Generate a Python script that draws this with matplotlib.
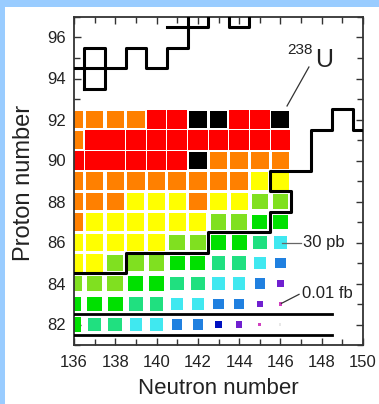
import numpy as np
import matplotlib.pyplot as plt
from matplotlib.patches import Rectangle

# neutron / proton numbers of the cells
neutrons = list(range(136, 147))
protons = [92, 91, 90, 89, 88, 87, 86, 85, 84, 83, 82]

# cross-section class of each cell (0 = largest ... 12 = smallest), rows follow `protons`
level = [
    [2, 2, 2, 2, 1, 1, 0, 0, 1, 1, 0],
    [2, 1, 1, 1, 1, 1, 1, 1, 1, 1, 1],
    [1, 1, 1, 1, 1, 1, 0, 2, 2, 2, 2],
    [2, 2, 2, 2, 2, 2, 2, 2, 2, 3, 3],
    [2, 2, 2, 3, 3, 3, 2, 3, 3, 4, 4],
    [2, 3, 3, 3, 3, 3, 3, 4, 4, 5, 5],
    [3, 3, 3, 3, 3, 4, 4, 5, 5, 6, 7],
    [3, 3, 4, 4, 4, 5, 5, 6, 6, 7, 8],
    [4, 4, 4, 5, 5, 6, 6, 7, 7, 8, 10],
    [5, 5, 5, 6, 6, 7, 7, 8, 8, 10, 11],
    [5, 6, 6, 7, 7, 8, 8, 9, 10, 11, 12],
]

level_colors = ['#000000', '#ff0000', '#ff8000', '#ffff00', '#80e020', '#00e000',
                '#20e080', '#40e8f0', '#2080e0', '#0010c0', '#7020d0', '#d040c0', '#e8e8e8']
level_sizes = [0.87, 0.96, 0.85, 0.83, 0.76, 0.72, 0.66, 0.6, 0.5, 0.38, 0.3, 0.16, 0.1]

# boundary lines (N, Z)
lower_N = [136, 138.5, 138.5, 142.5, 142.5, 145.5, 145.5, 146.5, 146.5, 145.5, 145.5,
           147.5, 147.5, 148.5, 148.5, 149.5, 149.5, 150]
lower_Z = [84.5, 84.5, 85.5, 85.5, 86.5, 86.5, 87.5, 87.5, 88.5, 88.5, 89.5,
           89.5, 91.5, 91.5, 92.5, 92.5, 91.5, 91.5]
upper_N = [136, 138.5, 138.5, 139.5, 139.5, 140.5, 140.5, 141.5, 141.5]
upper_Z = [94.5, 94.5, 95.5, 95.5, 94.5, 94.5, 95.5, 95.5, 97]
box_N = [136.5, 137.5, 137.5, 136.5, 136.5]
box_Z = [93.5, 93.5, 95.5, 95.5, 93.5]
top1_N = [140.5, 142.5, 142.5]
top1_Z = [96.5, 96.5, 97]
top2_N = [143.5, 143.5, 144.5, 144.5]
top2_Z = [97, 96.5, 96.5, 97]
shell_N = [136, 148.5]
shell_Z1 = [82.5, 82.5]
shell_Z2 = [81.5, 81.5]

tick_font = ['Liberation Sans Narrow', 'DejaVu Sans Condensed', 'Liberation Sans']
text_font = ['Liberation Sans', 'DejaVu Sans']

fig = plt.figure(figsize=(3.79, 4.04), dpi=100)
fig.patch.set_facecolor('#99ccff')
fig.add_artist(Rectangle((5 / 379, 0), 1, 1 - 7 / 404, transform=fig.transFigure,
                         facecolor='white', edgecolor='none', zorder=0))

ax = fig.add_axes([74 / 379, 1 - 345 / 404, 289 / 379, 328 / 404])
ax.set_xlim(136, 150)
ax.set_ylim(81, 97)

for i, z in enumerate(protons):
    for j, n in enumerate(neutrons):
        lv = level[i][j]
        s = level_sizes[lv]
        ax.add_patch(Rectangle((n - s / 2, z - s / 2), s, s, facecolor=level_colors[lv],
                               edgecolor='none', zorder=2))

lw = 2.2
ax.plot(lower_N, lower_Z, color='k', lw=lw, zorder=3)
ax.plot(upper_N, upper_Z, color='k', lw=lw, zorder=3)
ax.plot(box_N, box_Z, color='k', lw=lw, zorder=3)
ax.plot(top1_N, top1_Z, color='k', lw=lw, zorder=3)
ax.plot(top2_N, top2_Z, color='k', lw=lw, zorder=3)
ax.plot(shell_N, shell_Z1, color='k', lw=2, zorder=3)
ax.plot(shell_N, shell_Z2, color='k', lw=2, zorder=3)

# annotations
ax.plot([146.32, 147.38], [92.66, 94.56], color='#333333', lw=0.9, zorder=3)
ax.text(147.58, 95.05, '238', ha='right', va='bottom', fontsize=11, family=tick_font, color='#222222')
ax.text(147.7, 94.56, 'U', ha='left', va='baseline', fontsize=18, family=text_font, color='#222222')
ax.plot([146.1, 147.0], [86, 86], color='#666666', lw=0.9, zorder=3)
ax.text(147.1, 86, '30 pb', ha='left', va='center', fontsize=12, family=text_font, color='#222222')
ax.plot([146.05, 146.9], [83.03, 83.47], color='#333333', lw=0.9, zorder=3)
ax.text(147.05, 83.5, '0.01 fb', ha='left', va='center', fontsize=12, family=text_font, color='#222222')

ax.set_xticks(range(136, 151, 2))
ax.set_xticks(range(137, 150, 2), minor=True)
ax.set_yticks(range(82, 97, 2))
ax.set_yticks(range(81, 98, 2), minor=True)
ax.tick_params(which='both', direction='in', top=True, right=True, width=1, color='#333333')
ax.tick_params(which='major', length=5)
ax.tick_params(which='minor', length=4)
ax.tick_params(axis='x', pad=7)
ax.tick_params(axis='y', pad=6)
for lab in ax.get_xticklabels() + ax.get_yticklabels():
    lab.set_fontfamily(tick_font)
    lab.set_fontsize(12)
    lab.set_color('#222222')
for sp in ax.spines.values():
    sp.set_color('#333333')
    sp.set_linewidth(1.3)

fig.text(218 / 379, 1 - 389 / 404, 'Neutron number', ha='center', va='center',
         fontsize=16, family=text_font, color='#222222')
fig.text(24 / 379, 1 - 183 / 404, 'Proton number', ha='center', va='center', rotation=90,
         fontsize=17, family=text_font, color='#222222')

fig.savefig('out.png', dpi=100, facecolor=fig.get_facecolor())
